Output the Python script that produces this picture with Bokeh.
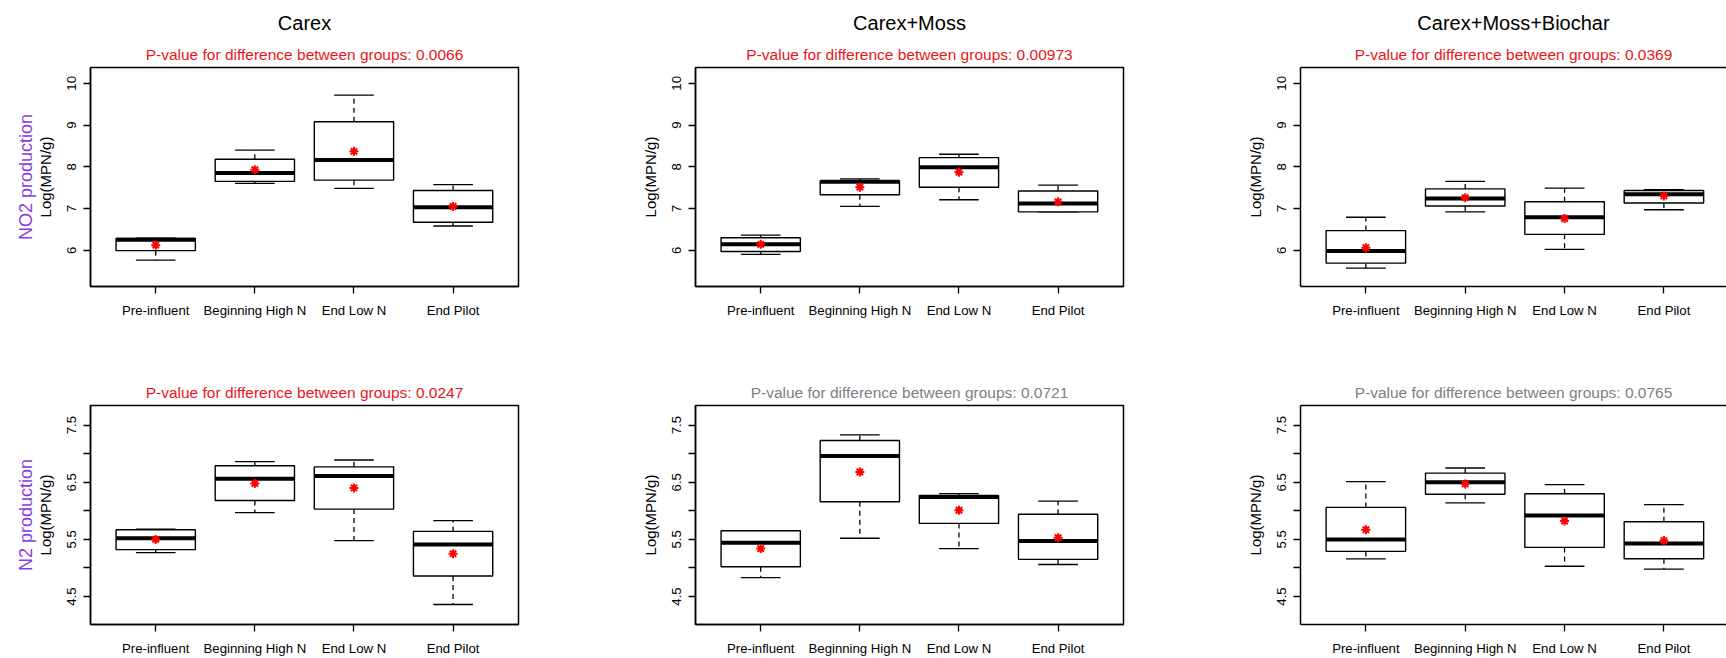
from bokeh.plotting import figure
from bokeh.layouts import column, row
from bokeh.models import FixedTicker, Title, LinearAxis, Range1d
from bokeh.embed import file_html
from bokeh.resources import INLINE

# ---------------- data ----------------
categories = ["Pre-influent", "Beginning High N", "End Low N", "End Pilot"]
treatments = ["Carex", "Carex+Moss", "Carex+Moss+Biochar"]
no2_pvalues = ["0.0066", "0.00973", "0.0369"]
n2_pvalues = ["0.0247", "0.0721", "0.0765"]
no2_significant = [True, True, True]
n2_significant = [True, False, False]
row_labels = ["NO2 production", "N2 production"]
no2_yticks = [6, 7, 8, 9, 10]
n2_yticks = [4.5, 5.5, 6.5, 7.5]
n2_yminor = [5.0, 6.0, 7.0]

# NO2 production - Carex
no2_carex_low = [5.76, 7.60, 7.48, 6.58]
no2_carex_q1 = [5.99, 7.65, 7.68, 6.67]
no2_carex_med = [6.25, 7.85, 8.16, 7.03]
no2_carex_q3 = [6.28, 8.18, 9.08, 7.43]
no2_carex_high = [6.29, 8.40, 9.72, 7.57]
no2_carex_mean = [6.12, 7.93, 8.37, 7.05]

# NO2 production - Carex+Moss
no2_moss_low = [5.90, 7.05, 7.21, 6.92]
no2_moss_q1 = [5.97, 7.33, 7.51, 6.92]
no2_moss_med = [6.14, 7.64, 7.99, 7.12]
no2_moss_q3 = [6.30, 7.66, 8.22, 7.42]
no2_moss_high = [6.36, 7.71, 8.30, 7.56]
no2_moss_mean = [6.14, 7.51, 7.87, 7.16]

# NO2 production - Carex+Moss+Biochar
no2_biochar_low = [5.57, 6.92, 6.02, 6.97]
no2_biochar_q1 = [5.69, 7.06, 6.38, 7.13]
no2_biochar_med = [5.98, 7.24, 6.79, 7.34]
no2_biochar_q3 = [6.47, 7.47, 7.16, 7.43]
no2_biochar_high = [6.79, 7.65, 7.49, 7.45]
no2_biochar_mean = [6.06, 7.26, 6.76, 7.30]

# N2 production - Carex
n2_carex_low = [5.27, 5.97, 5.48, 4.36]
n2_carex_q1 = [5.32, 6.18, 6.03, 4.86]
n2_carex_med = [5.52, 6.56, 6.61, 5.41]
n2_carex_q3 = [5.67, 6.79, 6.77, 5.64]
n2_carex_high = [5.68, 6.86, 6.89, 5.83]
n2_carex_mean = [5.50, 6.48, 6.40, 5.25]

# N2 production - Carex+Moss
n2_moss_low = [4.83, 5.52, 5.34, 5.06]
n2_moss_q1 = [5.02, 6.16, 5.78, 5.15]
n2_moss_med = [5.44, 6.96, 6.24, 5.47]
n2_moss_q3 = [5.65, 7.23, 6.27, 5.94]
n2_moss_high = [5.65, 7.33, 6.30, 6.17]
n2_moss_mean = [5.34, 6.68, 6.01, 5.53]

# N2 production - Carex+Moss+Biochar
n2_biochar_low = [5.16, 6.14, 5.03, 4.98]
n2_biochar_q1 = [5.29, 6.29, 5.36, 5.16]
n2_biochar_med = [5.50, 6.50, 5.92, 5.43]
n2_biochar_q3 = [6.06, 6.66, 6.30, 5.81]
n2_biochar_high = [6.51, 6.75, 6.46, 6.11]
n2_biochar_mean = [5.67, 6.47, 5.82, 5.48]

# ---------------- styling ----------------
FONT = "Liberation Sans"
RED = "#e8161b"
GRAY = "#808080"
PURPLE = "#8a3ce0"
xs = list(range(1, len(categories) + 1))
BOX_HALF = 0.4
CAP_HALF = 0.2


def make_panel(stats, col, is_top, pval, signif, name=None, rowlabel=None):
    low, q1, med, q3, high, mean = stats
    widths = [600, 605, 521]
    lefts = [90, 95, 95]
    rights = [82, 82, 0]
    x_end = [4.66, 4.66, 4.63][col]
    name_offset = [-9, -6, 4][col]
    pval_offset = [4, 0, 0][col]
    if is_top:
        height, top, bottom = 335, 67, 49
        yr = Range1d(5.13, 10.38)
        spacer = 6
    else:
        height, top, bottom = 323, 70, 34
        yr = Range1d(4.01, 7.844)
        spacer = 5
    p = figure(width=widths[col], height=height,
               x_range=Range1d(0.342, x_end), y_range=yr,
               output_backend="svg", toolbar_location=None, title=None,
               min_border_left=lefts[col], min_border_right=rights[col],
               min_border_top=top, min_border_bottom=bottom)
    p.xgrid.visible = False
    p.ygrid.visible = False
    p.background_fill_color = "white"
    p.border_fill_color = "white"

    xa = p.below[0]
    ya = p.left[0]

    # top border / spacer axis (no ticks)
    topax = LinearAxis(ticker=FixedTicker(ticks=[]), axis_line_width=1.5,
                       axis_line_color="black" if col == 2 else None,
                       major_tick_out=spacer, major_tick_in=0,
                       major_label_standoff=0, axis_label_standoff=0,
                       major_tick_line_color=None, minor_tick_line_color=None)
    p.add_layout(topax, "above")
    if col == 2:
        p.outline_line_color = None
    else:
        p.outline_line_color = "black"
        p.outline_line_width = 1.5

    # x axis
    xa.ticker = FixedTicker(ticks=xs)
    xa.major_label_overrides = {x: c for x, c in zip(xs, categories)}
    # y axis
    if is_top:
        ya.ticker = FixedTicker(ticks=no2_yticks)
    else:
        ya.ticker = FixedTicker(ticks=n2_yticks, minor_ticks=n2_yminor)
        ya.minor_tick_out = 7
        ya.minor_tick_in = 0
        ya.minor_tick_line_color = "black"
        ya.minor_tick_line_width = 1.3
    ya.major_label_orientation = "vertical"
    ya.axis_label = "Log(MPN/g)"
    ya.axis_label_text_font = FONT
    ya.axis_label_text_font_size = "15px"
    ya.axis_label_text_font_style = "normal"
    ya.axis_label_text_color = "black"
    ya.axis_label_standoff = 11
    for ax in (xa, ya):
        ax.major_tick_in = 0
        ax.major_tick_out = 7
        ax.major_tick_line_width = 1.3
        ax.major_tick_line_color = "black"
        ax.axis_line_width = 1.5
        ax.axis_line_color = "black"
        ax.major_label_text_font = FONT
        ax.major_label_text_font_size = "13.2px"
        ax.major_label_text_color = "black"
    xa.major_label_standoff = 9
    ya.major_label_standoff = 7
    if is_top:
        ya.minor_tick_line_color = None
    xa.minor_tick_line_color = None

    # titles (first added is closest to frame)
    p.add_layout(Title(text=f"P-value for difference between groups: {pval}",
                       align="center", offset=pval_offset, text_font=FONT,
                       text_font_size="15.5px", text_font_style="normal",
                       text_color=RED if signif else GRAY), "above")
    if name is not None:
        p.add_layout(Title(text=name, align="center", offset=name_offset,
                           text_font=FONT, text_font_size="20px",
                           text_font_style="normal",
                           text_color="black"), "above")
    if rowlabel is not None:
        lab = LinearAxis(ticker=FixedTicker(ticks=[]), axis_label=rowlabel,
                         axis_label_text_font=FONT,
                         axis_label_text_font_size="18px",
                         axis_label_text_font_style="normal",
                         axis_label_text_color=PURPLE, axis_label_standoff=-2,
                         major_tick_out=0, major_tick_in=0,
                         major_label_standoff=0, axis_line_color=None,
                         major_tick_line_color=None, minor_tick_line_color=None)
        p.add_layout(lab, "left")

    left_edge = [x - BOX_HALF for x in xs]
    right_edge = [x + BOX_HALF for x in xs]
    cap_l = [x - CAP_HALF for x in xs]
    cap_r = [x + CAP_HALF for x in xs]
    # whiskers (dashed)
    p.segment(x0=xs, y0=q3, x1=xs, y1=high, line_color="black",
              line_width=1.3, line_dash="5 4")
    p.segment(x0=xs, y0=q1, x1=xs, y1=low, line_color="black",
              line_width=1.3, line_dash="5 4")
    # caps
    p.segment(x0=cap_l, y0=high, x1=cap_r, y1=high, line_color="black",
              line_width=1.3)
    p.segment(x0=cap_l, y0=low, x1=cap_r, y1=low, line_color="black",
              line_width=1.3)
    # boxes
    p.quad(left=left_edge, right=right_edge, bottom=q1, top=q3,
           fill_color="white", line_color="black", line_width=1.4)
    # medians
    p.segment(x0=left_edge, y0=med, x1=right_edge, y1=med,
              line_color="black", line_width=4)
    # means
    p.scatter(x=xs, y=mean, marker="asterisk", size=9, line_color="red",
              line_width=2)
    return p


no2_stats = [
    (no2_carex_low, no2_carex_q1, no2_carex_med, no2_carex_q3, no2_carex_high, no2_carex_mean),
    (no2_moss_low, no2_moss_q1, no2_moss_med, no2_moss_q3, no2_moss_high, no2_moss_mean),
    (no2_biochar_low, no2_biochar_q1, no2_biochar_med, no2_biochar_q3, no2_biochar_high, no2_biochar_mean),
]
n2_stats = [
    (n2_carex_low, n2_carex_q1, n2_carex_med, n2_carex_q3, n2_carex_high, n2_carex_mean),
    (n2_moss_low, n2_moss_q1, n2_moss_med, n2_moss_q3, n2_moss_high, n2_moss_mean),
    (n2_biochar_low, n2_biochar_q1, n2_biochar_med, n2_biochar_q3, n2_biochar_high, n2_biochar_mean),
]

top_row = [make_panel(no2_stats[i], i, True, no2_pvalues[i], no2_significant[i],
                      name=treatments[i],
                      rowlabel=row_labels[0] if i == 0 else None) for i in range(3)]
bottom_row = [make_panel(n2_stats[i], i, False, n2_pvalues[i], n2_significant[i],
                         rowlabel=row_labels[1] if i == 0 else None) for i in range(3)]

layout = column(row(*top_row, spacing=0), row(*bottom_row, spacing=0), spacing=0)

open("out.html", "w").write(file_html(layout, INLINE))
